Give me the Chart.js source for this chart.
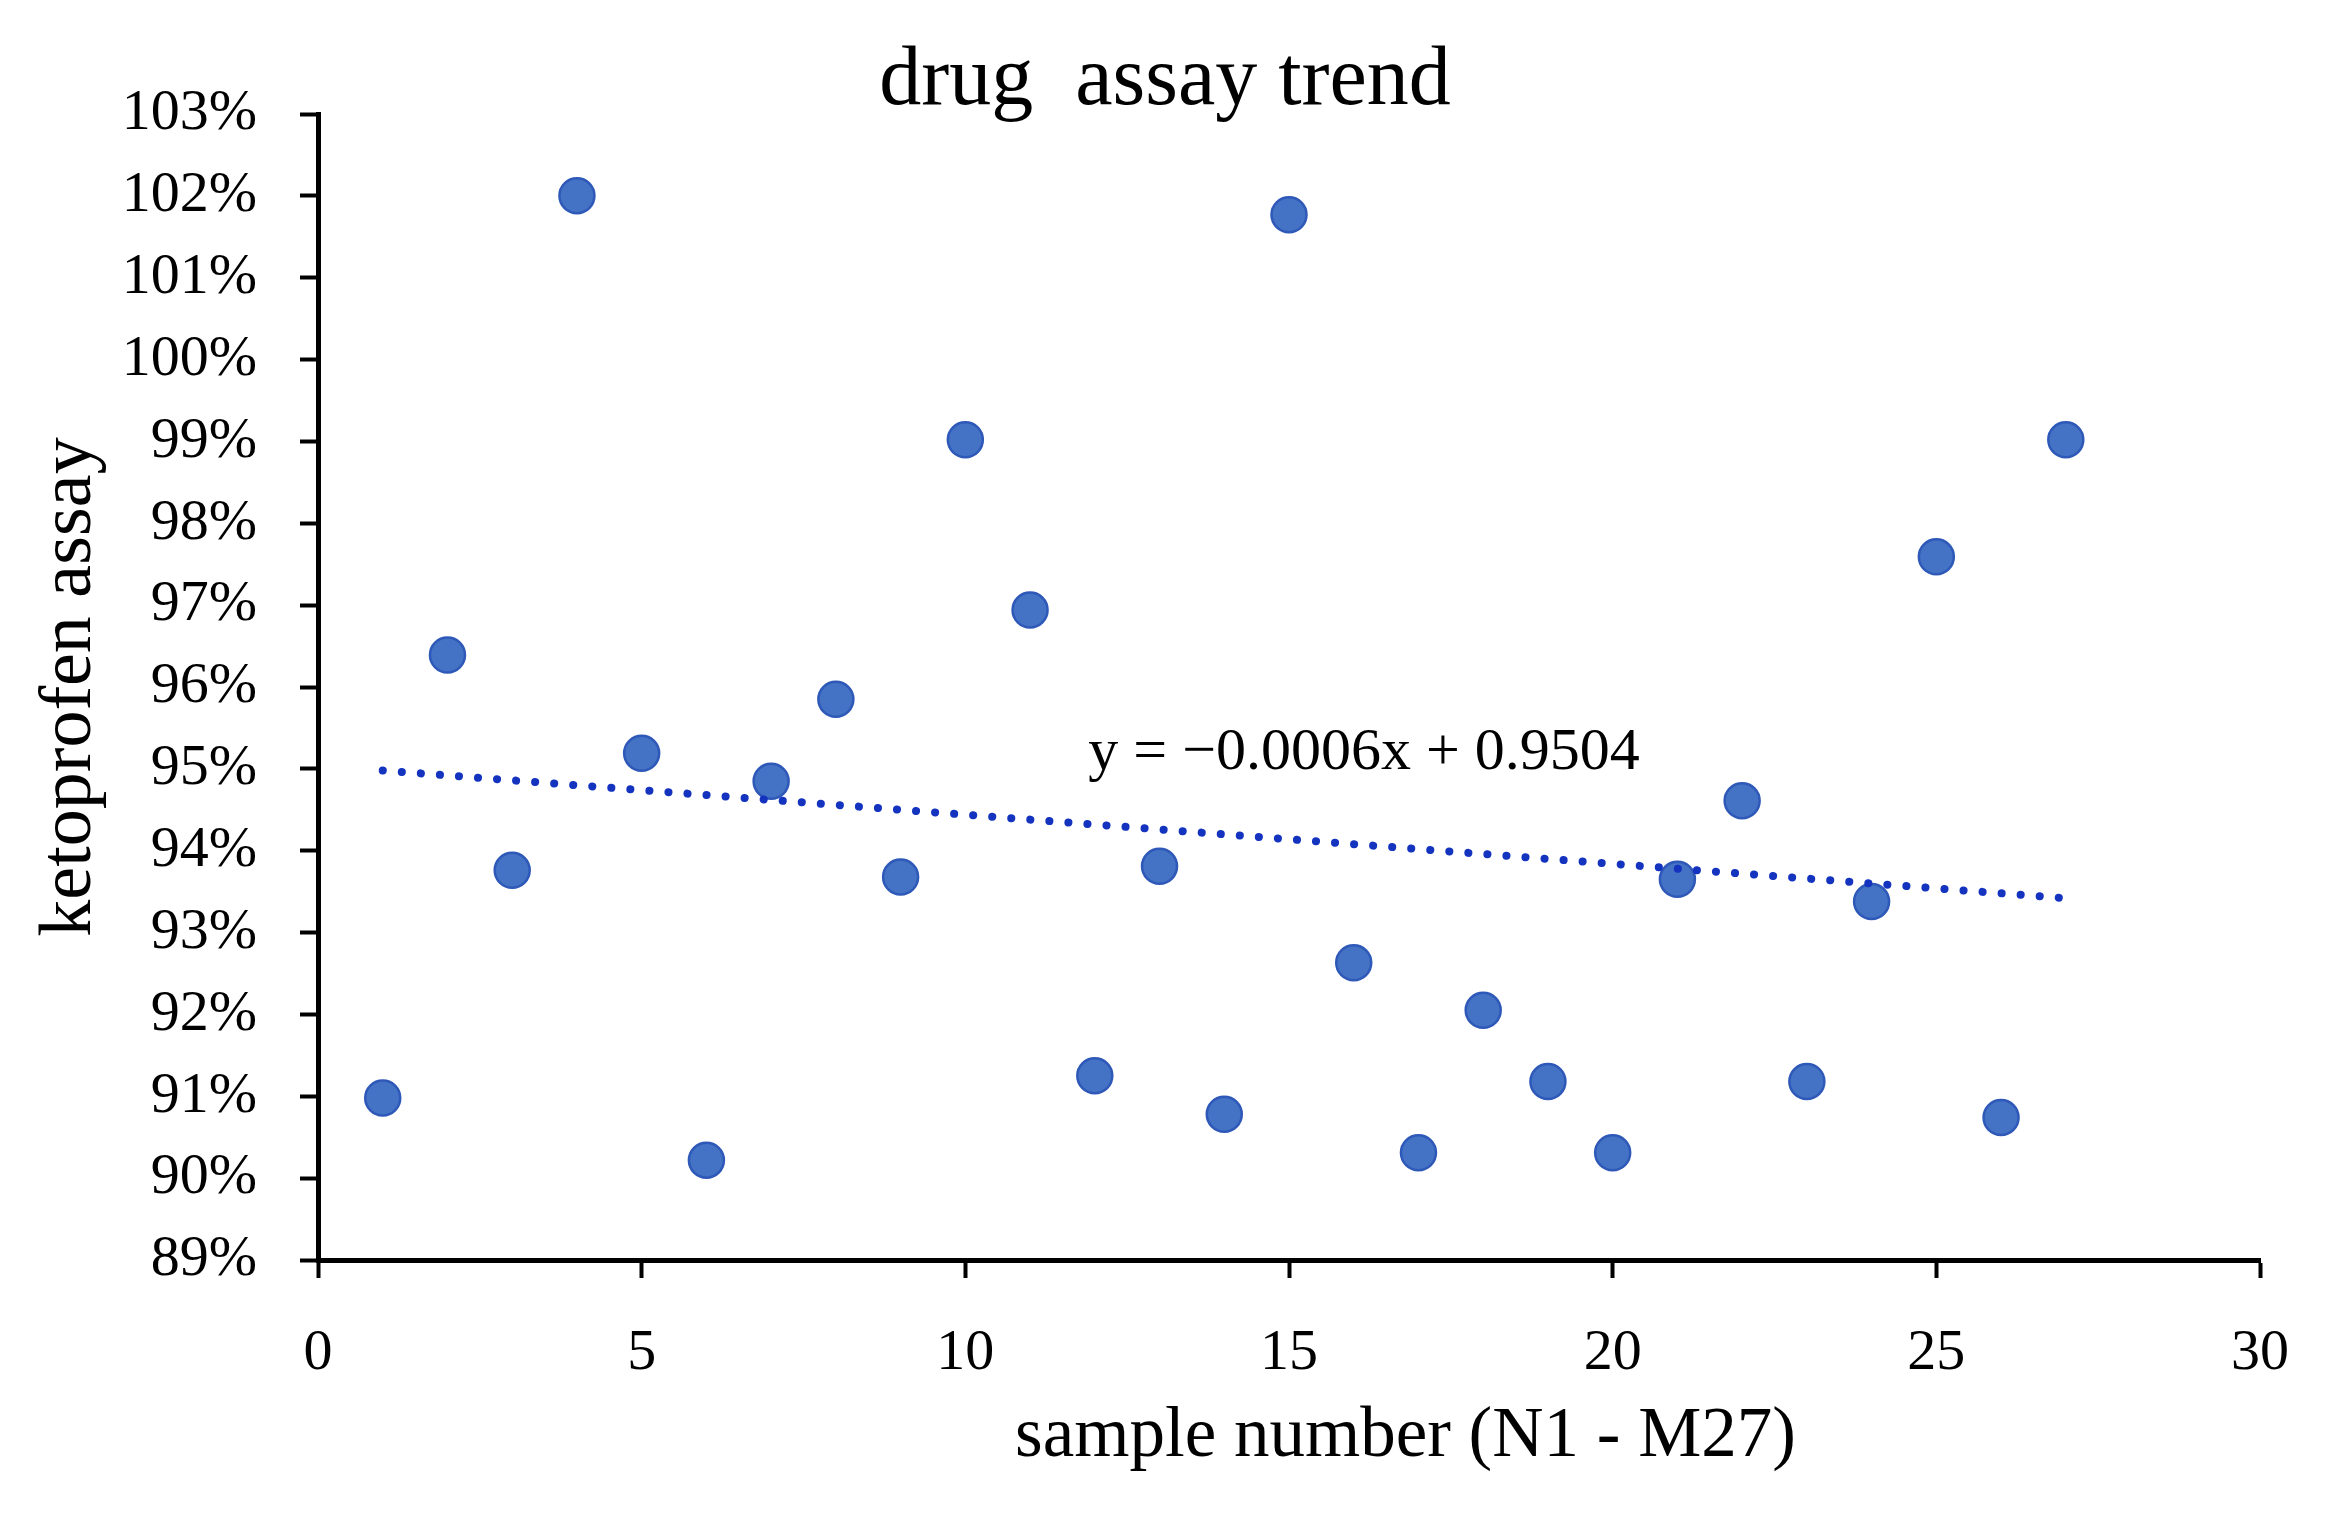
<!DOCTYPE html>
<html>
<head>
<meta charset="utf-8">
<title>drug assay trend</title>
<script src="https://cdn.jsdelivr.net/npm/chart.js@4.4.1/dist/chart.umd.min.js"></script>
<style>
  html, body { margin: 0; padding: 0; background: #fff; }
  #wrap { width: 2330px; height: 1516px; }
</style>
</head>
<body>
<div id="wrap"><canvas id="myChart"></canvas></div>
<script>

// sample numbers N1 .. M27
var sampleNo = [1, 2, 3, 4, 5, 6, 7, 8, 9, 10, 11, 12, 13, 14, 15, 16, 17, 18, 19, 20, 21, 22, 23, 24, 25, 26, 27];

// ketoprofen assay (as fractions, 1 = 100%)
var assay = [0.9098, 0.9639, 0.9376, 1.0200, 0.9519, 0.9022, 0.9485, 0.9585, 0.9368, 0.9902,
             0.9694, 0.9125, 0.9381, 0.9078, 1.0177, 0.9263, 0.9031, 0.9205, 0.9118, 0.9031,
             0.9365, 0.9461, 0.9118, 0.9338, 0.9759, 0.9074, 0.9902];

// linear trendline end points
var trendX = [1, 27];
var trendY = [0.9498, 0.9342];

// axis ticks
var xTicks = [0, 5, 10, 15, 20, 25, 30];
var yTicks = [0.89, 0.90, 0.91, 0.92, 0.93, 0.94, 0.95, 0.96, 0.97, 0.98, 0.99, 1.00, 1.01, 1.02, 1.03];

var chartTitle = 'drug  assay trend';
var xTitle = 'sample number (N1 - M27)';
var yTitle = 'ketoprofen assay';
var equationText = 'y = \u22120.0006x + 0.9504';

var serif = "'Liberation Serif', 'DejaVu Serif', serif";

// free text: chart title, trendline equation and the x caption
const textLabels = {
	id: 'textLabels',
	afterDraw(chart) {
		const ctx = chart.ctx;
		const xs = chart.scales.x, ys = chart.scales.y;
		ctx.save();
		ctx.fillStyle = '#000';
		ctx.textBaseline = 'alphabetic';

		ctx.font = '84px ' + serif;
		ctx.textAlign = 'center';
		ctx.fillText(chartTitle, chart.width / 2, 104);

		ctx.font = '60px ' + serif;
		ctx.textAlign = 'left';
		ctx.fillText(equationText, xs.getPixelForValue(11.9), ys.getPixelForValue(0.95));

		ctx.font = '71px ' + serif;
		ctx.textAlign = 'center';
		ctx.fillText(xTitle, xs.getPixelForValue(16.8), chart.chartArea.bottom + 196);
		ctx.restore();
	}
};

const ctx = document.getElementById('myChart').getContext('2d');
const myChart = new Chart(ctx, {
	type: 'scatter',
	data: {
		datasets: [{
			type: 'line',
			label: 'Linear trend',
			data: trendX.map(function (x, i) { return {x: x, y: trendY[i]}; }),
			borderColor: '#1434c0',
			borderWidth: 8,
			borderDash: [0.1, 19],
			borderCapStyle: 'round',
			pointRadius: 0,
			fill: false,
			order: 0
		}, {
			label: 'assay',
			data: sampleNo.map(function (n, i) { return {x: n, y: assay[i]}; }),
			backgroundColor: '#4472C4',
			borderColor: '#2f59b8',
			borderWidth: 2.5,
			pointRadius: 17.5,
			order: 1
		}]
	},
	options: {
		responsive: true,
		maintainAspectRatio: false,
		animation: false,
		layout: { padding: { left: 0, right: 68, top: 114, bottom: 0 } },
		plugins: {
			legend: { display: false },
			tooltip: { enabled: false },
			title: { display: false }
		},
		scales: {
			x: {
				type: 'linear',
				min: 0,
				max: 30,
				afterBuildTicks: function (axis) { axis.ticks = xTicks.map(function (v) { return {value: v}; }); },
				afterFit: function (axis) { axis.height = 256; },
				ticks: { color: '#000', font: { family: serif, size: 58 }, padding: 41, maxRotation: 0 },
				grid: { display: true, drawOnChartArea: false, drawTicks: true, tickLength: 18, tickWidth: 4, tickColor: '#000' },
				border: { display: true, color: '#000', width: 5 }
			},
			y: {
				type: 'linear',
				min: 0.89,
				max: 1.03,
				afterBuildTicks: function (axis) { axis.ticks = yTicks.map(function (v) { return {value: v}; }); },
				afterFit: function (axis) { axis.width = 318; },
				ticks: {
					color: '#000',
					font: { family: serif, size: 58 },
					padding: 43,
					callback: function (v) { return Math.round(v * 100) + '%'; }
				},
				grid: { display: true, drawOnChartArea: false, drawTicks: true, tickLength: 18, tickWidth: 4, tickColor: '#000' },
				border: { display: true, color: '#000', width: 5 },
				title: {
					display: true,
					text: yTitle,
					color: '#000',
					font: { family: serif, size: 74 },
					padding: { top: 26, bottom: 0 }
				}
			}
		}
	},
	plugins: [textLabels]
});
</script>
</body>
</html>
